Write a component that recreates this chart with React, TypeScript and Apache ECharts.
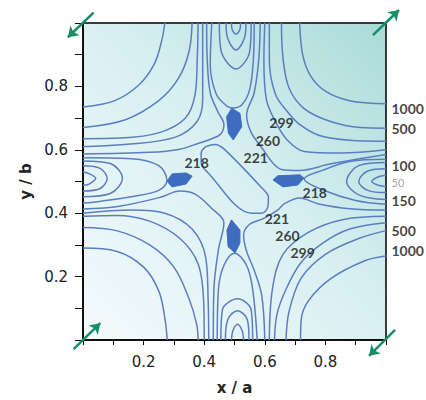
import React, { useEffect, useRef } from 'react';
import * as echarts from 'echarts';

// ---- Axis ticks ----
const X_TICK_LABELS = [0.2, 0.4, 0.6, 0.8];
const Y_TICK_LABELS = [0.2, 0.4, 0.6, 0.8];

// ---- Edge wells (contours 50 / 100 / 150 and 218 teardrop) ----
const L50 = [[0, 0.53], [0.02, 0.525], [0.042, 0.51], [0.02, 0.492], [0, 0.488]];
const L100 = [[0, 0.55], [0.055, 0.542], [0.08, 0.51], [0.055, 0.477], [0, 0.47]];
const L150 = [[0, 0.565], [0.09, 0.557], [0.13, 0.51], [0.09, 0.462], [0, 0.452]];
const L218 = [[0, 0.575], [0.16, 0.572], [0.25, 0.55], [0.277, 0.503], [0.25, 0.472], [0.16, 0.452], [0.06, 0.438], [0, 0.432]];

const R50 = [[1, 0.52], [0.975, 0.515], [0.953, 0.5], [0.975, 0.488], [1, 0.484]];
const R100 = [[1, 0.54], [0.94, 0.533], [0.91, 0.5], [0.94, 0.472], [1, 0.465]];
const R150 = [[1, 0.56], [0.91, 0.55], [0.87, 0.5], [0.91, 0.458], [1, 0.443]];
const R218 = [[1, 0.57], [0.88, 0.563], [0.79, 0.535], [0.73, 0.508], [0.79, 0.474], [0.9, 0.44], [1, 0.428]];

const T50 = [[0.49, 1], [0.492, 0.98], [0.505, 0.965], [0.518, 0.98], [0.52, 1]];
const T100 = [[0.472, 1], [0.478, 0.95], [0.505, 0.915], [0.532, 0.95], [0.538, 1]];
const T150 = [[0.45, 1], [0.455, 0.915], [0.505, 0.855], [0.55, 0.91], [0.555, 1]];
const T218 = [[0.425, 1], [0.42, 0.87], [0.44, 0.775], [0.475, 0.738], [0.495, 0.732], [0.525, 0.743], [0.55, 0.79], [0.562, 0.88], [0.565, 1]];

const B50 = [[0.49, 0], [0.495, 0.03], [0.51, 0.05], [0.525, 0.03], [0.53, 0]];
const B100 = [[0.47, 0], [0.478, 0.065], [0.51, 0.092], [0.542, 0.065], [0.548, 0]];
const B150 = [[0.455, 0], [0.46, 0.095], [0.51, 0.13], [0.555, 0.095], [0.56, 0]];
const B218 = [[0.443, 0], [0.447, 0.16], [0.465, 0.235], [0.5, 0.274], [0.54, 0.235], [0.56, 0.16], [0.575, 0]];

// ---- Corner families (221 / 260 / 299 / 500 / 1000) ----
const UL1000 = [[0.27, 1], [0.26, 0.945], [0.235, 0.87], [0.185, 0.805], [0.105, 0.755], [0, 0.735]];
const UL500 = [[0.36, 1], [0.35, 0.91], [0.315, 0.825], [0.25, 0.755], [0.14, 0.695], [0, 0.67]];
const UL299 = [[0.38, 1], [0.377, 0.885], [0.37, 0.775], [0.338, 0.7], [0.255, 0.655], [0.125, 0.637], [0, 0.635]];
const UL260 = [[0.395, 1], [0.395, 0.885], [0.395, 0.76], [0.377, 0.69], [0.305, 0.64], [0.155, 0.618], [0, 0.61]];
const UL221 = [[0.408, 1], [0.41, 0.885], [0.42, 0.78], [0.445, 0.72], [0.465, 0.68], [0.455, 0.65], [0.425, 0.635], [0.38, 0.62], [0.32, 0.602], [0.22, 0.592], [0, 0.587]];

const UR1000 = [[0.715, 1], [0.725, 0.9], [0.75, 0.835], [0.8, 0.785], [0.88, 0.755], [1, 0.745]];
const UR500 = [[0.655, 1], [0.66, 0.89], [0.68, 0.795], [0.73, 0.73], [0.815, 0.69], [0.915, 0.67], [1, 0.668]];
const UR299 = [[0.615, 1], [0.615, 0.885], [0.635, 0.775], [0.675, 0.72], [0.715, 0.68], [0.78, 0.645], [0.88, 0.63], [1, 0.627]];
const UR260 = [[0.6, 1], [0.597, 0.885], [0.605, 0.76], [0.64, 0.68], [0.675, 0.63], [0.73, 0.595], [0.85, 0.59], [1, 0.6]];
const UR221 = [[0.585, 1], [0.58, 0.885], [0.565, 0.78], [0.54, 0.71], [0.555, 0.655], [0.595, 0.6], [0.625, 0.56], [0.655, 0.538], [0.715, 0.535], [0.815, 0.555], [1, 0.585]];

const LL1000 = [[0, 0.29], [0.11, 0.28], [0.2, 0.23], [0.25, 0.155], [0.27, 0.07], [0.278, 0]];
const LL500 = [[0, 0.355], [0.11, 0.345], [0.22, 0.3], [0.3, 0.23], [0.35, 0.13], [0.375, 0.05], [0.38, 0]];
const LL299 = [[0, 0.39], [0.11, 0.393], [0.22, 0.375], [0.32, 0.32], [0.38, 0.24], [0.398, 0.125], [0.4, 0]];
const LL260 = [[0, 0.4], [0.16, 0.41], [0.27, 0.4], [0.36, 0.35], [0.405, 0.26], [0.413, 0.125], [0.415, 0]];
const LL221 = [[0, 0.413], [0.12, 0.422], [0.255, 0.45], [0.32, 0.47], [0.37, 0.46], [0.425, 0.415], [0.465, 0.37], [0.447, 0.285], [0.432, 0.16], [0.43, 0]];

const LR1000 = [[1, 0.265], [0.93, 0.25], [0.82, 0.195], [0.745, 0.125], [0.72, 0.063], [0.718, 0]];
const LR500 = [[1, 0.345], [0.91, 0.32], [0.8, 0.27], [0.72, 0.195], [0.68, 0.09], [0.67, 0]];
const LR299 = [[1, 0.37], [0.88, 0.35], [0.79, 0.305], [0.72, 0.245], [0.67, 0.16], [0.64, 0.08], [0.632, 0]];
const LR260 = [[1, 0.39], [0.86, 0.38], [0.745, 0.34], [0.66, 0.27], [0.625, 0.16], [0.615, 0]];
const LR221 = [[1, 0.41], [0.88, 0.414], [0.775, 0.43], [0.715, 0.448], [0.665, 0.43], [0.64, 0.408], [0.595, 0.383], [0.55, 0.365], [0.53, 0.33], [0.54, 0.28], [0.565, 0.22], [0.59, 0.14], [0.6, 0]];

// ---- Central 218 capsule ----
const CAPSULE = [[0.405, 0.61], [0.435, 0.617], [0.465, 0.603], [0.59, 0.48], [0.612, 0.45], [0.61, 0.42], [0.59, 0.4], [0.557, 0.4], [0.41, 0.53], [0.39, 0.56], [0.39, 0.59], [0.405, 0.61]];

// ---- Filled minima ----
const BLOB_TOP = [[0.491, 0.731], [0.518, 0.715], [0.524, 0.673], [0.496, 0.631], [0.48, 0.652], [0.474, 0.704]];
const BLOB_LEFT = [[0.277, 0.501], [0.294, 0.524], [0.34, 0.527], [0.36, 0.517], [0.34, 0.492], [0.294, 0.483]];
const BLOB_RIGHT = [[0.627, 0.505], [0.643, 0.518], [0.716, 0.521], [0.729, 0.511], [0.709, 0.489], [0.66, 0.483]];
const BLOB_BOTTOM = [[0.49, 0.379], [0.518, 0.347], [0.518, 0.306], [0.502, 0.275], [0.479, 0.294], [0.475, 0.347]];

// ---- Contour labels ----
const INNER_LABEL_TEXT = ['299', '260', '221', '218', '218', '221', '260', '299'];
const INNER_LABEL_X = [0.655, 0.61, 0.57, 0.375, 0.765, 0.64, 0.675, 0.725];
const INNER_LABEL_Y = [0.685, 0.63, 0.575, 0.56, 0.465, 0.383, 0.33, 0.275];

const EDGE_LABEL_TEXT = ['1000', '500', '100', '50', '150', '500', '1000'];
const EDGE_LABEL_Y = [0.73, 0.668, 0.552, 0.497, 0.44, 0.347, 0.281];

// ---- Corner arrows (tail, head) ----
const ARROWS = [
  [[0.035, 1.033], [-0.05, 0.955]],
  [[0.957, 0.962], [1.043, 1.041]],
  [[-0.031, -0.029], [0.057, 0.053]],
  [[1.03, 0.032], [0.944, -0.05]],
];

const CONTOURS = [
  L50, L100, L150, L218, R50, R100, R150, R218,
  T50, T100, T150, T218, B50, B100, B150, B218,
  UL1000, UL500, UL299, UL260, UL221,
  UR1000, UR500, UR299, UR260, UR221,
  LL1000, LL500, LL299, LL260, LL221,
  LR1000, LR500, LR299, LR260, LR221,
  CAPSULE,
];
const BLOBS = [BLOB_TOP, BLOB_LEFT, BLOB_RIGHT, BLOB_BOTTOM];

const LINE_COLOR = '#5a7ec0';
const BLOB_COLOR = '#3e6dbf';
const ARROW_COLOR = '#178d68';
const FONT = 'Lato, "DejaVu Sans", sans-serif';

export default function App() {
  const ref = useRef<HTMLDivElement>(null);
  useEffect(() => {
    document.body.style.margin = '0';
    const chart = echarts.init(ref.current!, null, { renderer: 'svg' });

    const contourSeries = CONTOURS.map((c) => ({
      type: 'line',
      data: c,
      smooth: 0.35,
      symbol: 'none',
      showSymbol: false,
      silent: true,
      z: 3,
      lineStyle: { color: LINE_COLOR, width: 1.5 },
    }));

    const blobSeries = BLOBS.map((b) => ({
      type: 'custom',
      silent: true,
      z: 4,
      data: [[0.5, 0.5]],
      renderItem: (_params: any, api: any) => ({
        type: 'polygon',
        shape: { points: b.map((p) => api.coord(p)) },
        style: { fill: BLOB_COLOR, stroke: BLOB_COLOR, lineWidth: 1 },
      }),
    }));

    const tickFmt = (list: number[]) => (v: number) => {
      const r = Math.round(v * 10) / 10;
      return list.includes(r) ? r.toFixed(1) : '';
    };

    chart.setOption({
      animation: false,
      grid: {
        left: 83,
        right: 40,
        top: 23,
        bottom: 60,
        show: true,
        borderColor: '#000',
        borderWidth: 1.5,
        backgroundColor: new echarts.graphic.LinearGradient(0, 1, 1, 0, [
          { offset: 0, color: '#f4fafc' },
          { offset: 0.55, color: '#d7eff1' },
          { offset: 1, color: '#a9dbd8' },
        ]),
      },
      xAxis: {
        type: 'value',
        min: 0,
        max: 1,
        interval: 0.1,
        splitLine: { show: false },
        axisLine: { show: true, lineStyle: { color: '#000', width: 1.5 } },
        axisTick: { show: true, inside: false, length: 5, lineStyle: { color: '#000' } },
        axisLabel: { formatter: tickFmt(X_TICK_LABELS), fontSize: 15, color: '#222', margin: 14, fontFamily: '"DejaVu Sans", sans-serif' },
        name: 'x / a',
        nameLocation: 'middle',
        nameGap: 40,
        nameTextStyle: { fontWeight: 'bold', fontSize: 15, color: '#222', fontFamily: '"DejaVu Sans", sans-serif' },
      },
      yAxis: {
        type: 'value',
        min: 0,
        max: 1,
        interval: 0.1,
        splitLine: { show: false },
        axisLine: { show: true, lineStyle: { color: '#000', width: 1.5 } },
        axisTick: { show: true, inside: false, length: 8, lineStyle: { color: '#000' } },
        axisLabel: { formatter: tickFmt(Y_TICK_LABELS), fontSize: 15, color: '#222', margin: 15, fontFamily: '"DejaVu Sans", sans-serif' },
        name: 'y / b',
        nameLocation: 'middle',
        nameGap: 44,
        nameTextStyle: { fontWeight: 'bold', fontSize: 15, color: '#222', fontFamily: '"DejaVu Sans", sans-serif' },
      },
      series: [
        ...contourSeries,
        ...blobSeries,
        {
          type: 'scatter',
          silent: true,
          z: 6,
          symbolSize: 1,
          itemStyle: { color: 'rgba(0,0,0,0)' },
          data: INNER_LABEL_TEXT.map((t, i) => ({ name: t, value: [INNER_LABEL_X[i], INNER_LABEL_Y[i]] })),
          label: { show: true, position: 'inside', formatter: '{b}', fontSize: 14, fontWeight: 'bold', color: '#111', fontFamily: FONT },
        },
        {
          type: 'scatter',
          silent: true,
          clip: false,
          z: 6,
          symbolSize: 1,
          itemStyle: { color: 'rgba(0,0,0,0)' },
          data: EDGE_LABEL_TEXT.map((t, i) => ({
            name: t,
            value: [1, EDGE_LABEL_Y[i]],
            label: t === '50' ? { color: '#888', fontWeight: 'normal', fontSize: 11, lineHeight: 11 } : undefined,
          })),
          label: { show: true, position: 'right', distance: 5, formatter: '{b}', fontSize: 14, lineHeight: 14, fontWeight: 'bold', color: '#111', fontFamily: FONT },
        },
        {
          type: 'lines',
          coordinateSystem: 'cartesian2d',
          clip: false,
          silent: true,
          z: 7,
          symbol: ['none', 'arrow'],
          symbolSize: 10,
          lineStyle: { color: ARROW_COLOR, width: 2.5, opacity: 1 },
          data: ARROWS.map((a) => ({ coords: a })),
        },
      ],
    });
    return () => chart.dispose();
  }, []);
  return <div ref={ref} style={{ width: 426, height: 400 }} />;
}
